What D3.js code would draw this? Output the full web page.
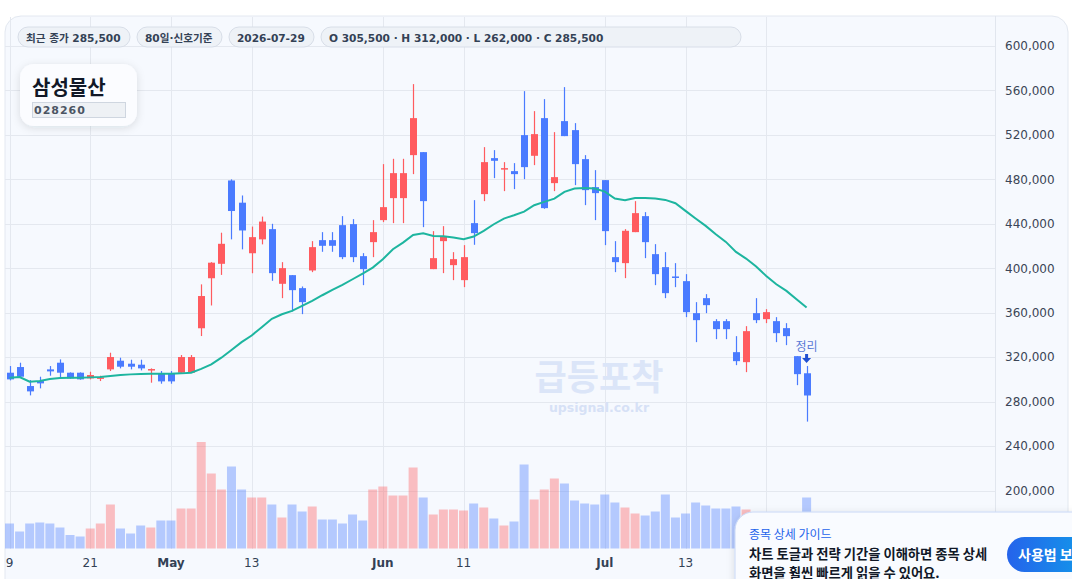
<!DOCTYPE html>
<html>
<head>
<meta charset="utf-8">
<script src="https://cdn.jsdelivr.net/npm/d3@7"></script>
<style>
  body { margin: 0; background: #ffffff; font-family: "DejaVu Sans", "Noto Sans CJK KR", sans-serif; }
  svg { display: block; }
</style>
</head>
<body>
<svg id="chart"></svg>
<script>
// ---- data ----
const opens  = [306000,311100,294000,298500,309000,315000,306000,306000,300900,301500,
                309000,316800,314100,313200,308100,305100,305100,306000,306000,346000,
                391000,404000,479000,459000,413500,426000,435200,386000,393800,382100,
                398000,425300,425300,438800,439700,410900,423500,443300,463100,463100,
                501800,504500,399200,424400,402800,389300,440600,466700,499100,489500,
                487400,519800,501200,535100,476600,532400,524300,498200,473000,479300,
                410000,404600,432500,446900,412700,401000,392600,388400,359600,373100,
                352400,352400,324500,315500,359600,354200,352400,346100,320900,305500]
const highs  = [312000,315000,299400,302400,312000,318000,306300,306300,306900,303300,
                324000,319500,317700,317700,309900,307500,307500,321900,321900,385500,
                405500,432000,480000,465500,437500,446500,440000,405500,393800,383600,
                424400,432500,432500,446900,444200,413600,443300,493700,498500,498500,
                565700,504500,433400,437900,414500,420800,461300,509000,506300,495500,
                494600,559400,541400,552200,522500,563000,530600,501800,488300,479300,
                424400,435200,460400,450500,421700,414500,404600,394700,369500,376700,
                354200,354200,338900,347900,373100,363200,356000,350600,320900,312000]
const lows   = [299100,301500,285600,291900,303300,301200,300600,299700,300000,298500,
                307500,309900,309000,308100,297000,296100,296100,305700,305700,339000,
                366500,394000,426000,417000,395500,421500,388700,373100,361100,358700,
                396500,414800,414800,408200,405500,384800,410000,441500,440600,440600,
                484700,437000,399200,395600,389300,383000,421100,460400,481100,469400,
                471200,480200,492800,453500,469400,518900,474800,456800,443300,420800,
                396500,391100,432500,409100,384800,373100,383000,356000,333500,359600,
                336200,336200,312800,306500,350600,350600,333500,330800,294800,262000]
const closes = [300000,302400,289200,296400,307200,306000,300900,300000,303900,301800,
                320100,311400,311400,309900,309300,298200,298200,320100,320100,375000,
                405000,422000,451500,434000,428000,442000,395600,400100,380300,369500,
                419000,420200,420200,410000,410000,399200,432500,455000,485600,485600,
                535100,460400,409100,428900,408200,410000,431600,495500,496700,490100,
                484700,491000,520700,454100,482000,518900,493700,470300,467600,433400,
                405500,433700,449600,423500,394700,377600,391700,360500,353300,366800,
                345200,345200,316400,343400,353300,360500,341600,338900,304700,285500]
// volume, thousand shares
const volumes = [250,170,250,260,250,210,135,120,200,250,
                 440,200,150,230,210,280,280,400,400,1065,
                 750,590,820,590,510,510,440,310,440,370,
                 420,290,290,250,340,280,590,620,530,530,
                 810,510,340,390,390,380,450,410,300,230,
                 270,840,490,590,700,650,480,450,440,540,
                 460,410,350,330,370,540,310,350,460,430,
                 400,400,420,390,320,300,340,310,330,510]
// volume bars whose colour differs from their candle
const volumeUpIdx = [53]
// moving average line
const maLine = [301500,302100,297900,298500,300300,301200,301500,301500,301800,302100,
                303000,303900,304500,304800,305100,305100,305100,305400,306000,309500,
                313500,319500,326500,333500,339500,347000,354500,358600,361600,366100,
                370600,375700,380500,385000,390100,395200,400600,408100,417100,423100,
                430000,431500,429100,428800,427600,426100,428500,433600,439600,444700,
                447700,451000,456700,459700,462700,468700,471700,472300,471700,469000,
                462700,461200,463300,463300,462700,461500,458500,451600,444700,438100,
                430600,423700,414700,408700,401500,393100,385600,379600,372100,364600]
const priceTicks = [200000,240000,280000,320000,360000,400000,440000,480000,520000,560000,600000]
const tickDates = ["2026-04-09","2026-04-21","2026-05-01","2026-05-13","2026-06-01",
                   "2026-06-11","2026-07-01","2026-07-13","2026-07-23"]
const badges = ["최근 종가 285,500", "80일·신호기준", "2026-07-29",
                "O 305,500 · H 312,000 · L 262,000 · C 285,500"]

// trading days (weekdays) from first to last date
const parse = d3.timeParse("%Y-%m-%d")
const dates = d3.timeDay.range(parse("2026-04-09"), d3.timeDay.offset(parse("2026-07-29"), 1))
    .filter(d => d.getDay() != 0 && d.getDay() != 6)

const width = 1072, height = 579
const svg = d3.select("#chart").attr("width", width).attr("height", height)

const plotLeft = 5, plotRight = 995, plotTop = 16, plotBottom = 549

const x = d3.scaleLinear().domain([0, dates.length - 1]).range([9.5, 806.6])
const y = d3.scaleLinear().domain([200000, 600000]).range([490.5, 46])
const yVol = d3.scaleLinear().domain([0, d3.max(volumes)]).range([plotBottom - 0.5, 442])

const upColor = "#ff5b5f", downColor = "#4a7bff"

// card
svg.append("rect").attr("x", plotLeft).attr("y", plotTop).attr("width", 1063).attr("height", 640)
    .attr("rx", 16).attr("fill", "#f6f9fe").attr("stroke", "#e3e8f0")

// grid
svg.append("g").selectAll("line").data(priceTicks).join("line")
    .attr("x1", plotLeft).attr("x2", plotRight)
    .attr("y1", d => Math.round(y(d)) + 0.5).attr("y2", d => Math.round(y(d)) + 0.5)
    .attr("stroke", "#e4e8ef")
const tickIdx = tickDates.map(s => dates.findIndex(d => +d == +parse(s)))
svg.append("g").selectAll("line").data(tickIdx).join("line")
    .attr("x1", d => Math.round(x(d)) + 0.5).attr("x2", d => Math.round(x(d)) + 0.5)
    .attr("y1", plotTop + 1).attr("y2", plotBottom)
    .attr("stroke", "#e4e8ef")
svg.append("line").attr("x1", plotRight + 0.5).attr("x2", plotRight + 0.5)
    .attr("y1", plotTop).attr("y2", height).attr("stroke", "#e1e6ee")

// watermark
svg.append("text").attr("x", 599).attr("y", 390).attr("text-anchor", "middle")
    .attr("font-family", "Noto Sans CJK KR").attr("font-weight", 700).attr("font-size", 35)
    .attr("fill", "#dbe5f8").text("급등포착")
svg.append("text").attr("x", 599).attr("y", 412).attr("text-anchor", "middle")
    .attr("font-weight", 700).attr("font-size", 12.5).attr("fill", "#d6e1f6").text("upsignal.co.kr")

// volume
const isUp = i => closes[i] >= opens[i]
const volUp = i => volumeUpIdx.includes(i) ? !isUp(i) : isUp(i)
svg.append("g").selectAll("rect").data(volumes).join("rect")
    .attr("x", (d, i) => x(i) - 4.5).attr("width", 9)
    .attr("y", d => yVol(d)).attr("height", d => yVol(0) - yVol(d))
    .attr("fill", (d, i) => volUp(i) ? upColor : downColor).attr("opacity", 0.38)

// candles
const candles = svg.append("g").selectAll("g").data(dates).join("g")
candles.append("line")
    .attr("x1", (d, i) => Math.round(x(i)) + 0.5).attr("x2", (d, i) => Math.round(x(i)) + 0.5)
    .attr("y1", (d, i) => y(highs[i])).attr("y2", (d, i) => y(lows[i]))
    .attr("stroke", (d, i) => isUp(i) ? upColor : downColor).attr("stroke-width", 1.2)
candles.append("rect")
    .attr("x", (d, i) => Math.round(x(i)) - 3).attr("width", 7)
    .attr("y", (d, i) => y(Math.max(opens[i], closes[i])))
    .attr("height", (d, i) => Math.max(1.5, Math.abs(y(opens[i]) - y(closes[i]))))
    .attr("fill", (d, i) => isUp(i) ? upColor : downColor)

// moving average
const line = d3.line().x((d, i) => x(i)).y(d => y(d))
svg.append("path").datum(maLine).attr("d", line)
    .attr("fill", "none").attr("stroke", "#1db59f").attr("stroke-width", 2)

// signal marker on last candle
const last = dates.length - 1
svg.append("text").attr("x", x(last)).attr("y", 351).attr("text-anchor", "middle")
    .attr("font-family", "Noto Sans CJK KR").attr("font-size", 12).attr("fill", "#5a79d6").text("정리")
svg.append("path")
    .attr("d", `M${x(last) - 1.5},354 h3 v4 h3 l-4.5,5 l-4.5,-5 h3 z`)
    .attr("fill", "#1f4fd1")

// right axis
svg.append("g").attr("transform", `translate(${plotRight + 10},0)`)
    .call(d3.axisRight(y).tickValues(priceTicks).tickFormat(d3.format(",")).tickSize(0).tickPadding(0))
    .call(g => g.select(".domain").remove())
    .call(g => g.selectAll("text").attr("font-family", "DejaVu Sans").attr("font-size", 12).attr("fill", "#3b4556"))

// bottom axis labels (the last tick sits under the guide popup)
const fmt = d => d.getDate() == 1 ? d3.timeFormat("%b")(d) : d3.timeFormat("%-d")(d)
svg.append("g").selectAll("text").data(tickIdx.filter(d => x(d) < 735)).join("text")
    .attr("x", d => x(d)).attr("y", 567).attr("text-anchor", "middle")
    .attr("font-size", 12).attr("fill", "#334155")
    .attr("font-weight", d => dates[d].getDate() == 1 ? 700 : 400)
    .text(d => fmt(dates[d]))

// badges
let bx = 18
const bw = [112, 85, 85, 420]
badges.forEach((b, i) => {
  const g = svg.append("g").attr("transform", `translate(${bx},27)`)
  g.append("rect").attr("width", bw[i]).attr("height", 20).attr("rx", 10)
      .attr("fill", "#eef2f7").attr("stroke", "#d8dee8")
  g.append("text").attr("x", 8).attr("y", 14.5).attr("font-size", 10.6).attr("font-weight", 700)
      .attr("fill", "#334155").text(b)
  bx += bw[i] + 7
})

// title card
const defs = svg.append("defs")
const sh = defs.append("filter").attr("id", "shadow").attr("x", "-30%").attr("y", "-30%").attr("width", "160%").attr("height", "160%")
sh.append("feDropShadow").attr("dx", 0).attr("dy", 2).attr("stdDeviation", 4).attr("flood-color", "#1e293b").attr("flood-opacity", 0.12)
svg.append("rect").attr("x", 20).attr("y", 64).attr("width", 117).attr("height", 62).attr("rx", 14)
    .attr("fill", "#fbfcff").attr("filter", "url(#shadow)")
svg.append("text").attr("x", 32).attr("y", 95).attr("font-family", "Noto Sans CJK KR")
    .attr("font-weight", 700).attr("font-size", 20).attr("fill", "#111827").text("삼성물산")
svg.append("rect").attr("x", 32.5).attr("y", 102.5).attr("width", 93).attr("height", 15)
    .attr("fill", "#eef1f5").attr("stroke", "#cfd6e0")
svg.append("text").attr("x", 34).attr("y", 114).attr("font-weight", 700).attr("font-size", 11)
    .attr("letter-spacing", 1).attr("fill", "#4b5563").text("028260")

// guide popup
svg.append("rect").attr("x", 735).attr("y", 512).attr("width", 360).attr("height", 120).attr("rx", 18)
    .attr("fill", "#f9fbff").attr("stroke", "#c9d8f6").attr("filter", "url(#shadow)")
svg.append("text").attr("x", 749).attr("y", 539).attr("font-family", "Noto Sans CJK KR")
    .attr("font-size", 12).attr("fill", "#2563eb").text("종목 상세 가이드")
svg.append("text").attr("x", 749).attr("y", 559).attr("font-family", "Noto Sans CJK KR")
    .attr("font-weight", 700).attr("font-size", 13.3).attr("fill", "#111827").text("차트 토글과 전략 기간을 이해하면 종목 상세")
svg.append("text").attr("x", 749).attr("y", 578).attr("font-family", "Noto Sans CJK KR")
    .attr("font-weight", 700).attr("font-size", 13.3).attr("fill", "#111827").text("화면을 훨씬 빠르게 읽을 수 있어요.")
const grad = defs.append("linearGradient").attr("id", "btn")
grad.append("stop").attr("offset", 0).attr("stop-color", "#2563eb")
grad.append("stop").attr("offset", 1).attr("stop-color", "#0ea5e9")
svg.append("rect").attr("x", 1007).attr("y", 537).attr("width", 100).attr("height", 35).attr("rx", 17.5)
    .attr("fill", "url(#btn)")
svg.append("text").attr("x", 1018).attr("y", 560).attr("font-family", "Noto Sans CJK KR")
    .attr("font-weight", 700).attr("font-size", 14).attr("fill", "#ffffff").text("사용법 보기")
</script>
</body>
</html>
